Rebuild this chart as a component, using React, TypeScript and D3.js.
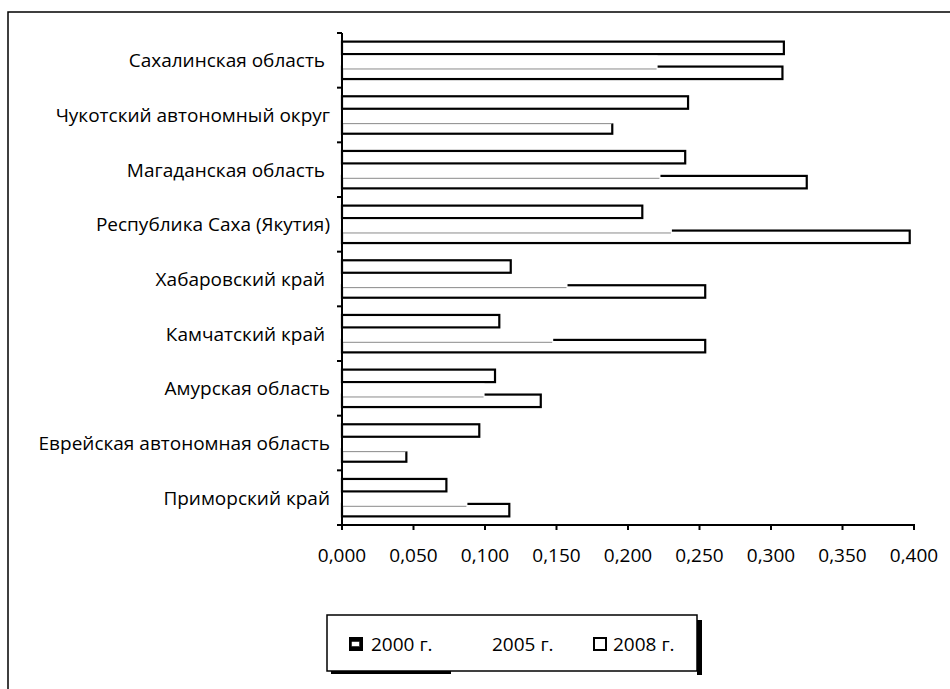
import React from "react";
import * as d3 from "d3";

const categories = [
  "Сахалинская область ",
  "Чукотский автономный округ",
  "Магаданская область ",
  "Республика Саха (Якутия)",
  "Хабаровский край ",
  "Камчатский край ",
  "Амурская область",
  "Еврейская автономная область",
  "Приморский край",
];
const values2000 = [0.309, 0.242, 0.24, 0.21, 0.118, 0.11, 0.107, 0.096, 0.073];
const values2005 = [0.22, 0.2, 0.222, 0.23, 0.157, 0.147, 0.099, 0.06, 0.087];
const values2008 = [0.308, 0.189, 0.325, 0.397, 0.254, 0.254, 0.139, 0.045, 0.117];
const xTicks = [0, 0.05, 0.1, 0.15, 0.2, 0.25, 0.3, 0.35, 0.4];
const seriesNames = ["2000 г.", "2005 г.", "2008 г."];

const W = 950;
const H = 689;
const FONT = "'Open Sans', sans-serif";
const FS = 19;

export default function App() {
  const x = d3.scaleLinear().domain([0, 0.4]).range([342, 914]);
  const y = d3.scaleBand().domain(categories).range([33, 525]).paddingInner(0).paddingOuter(0);
  const inner = d3
    .scaleBand()
    .domain(["2000", "2005", "2008"])
    .range([0, y.bandwidth()])
    .paddingInner(0)
    .paddingOuter(0.69);
  const bh = inner.bandwidth();
  const fmt = (v: number) => d3.format(".3f")(v).replace(".", ",");
  const boundaries = d3.range(categories.length + 1).map((i) => 33 + i * y.bandwidth());

  return (
    <svg width={W} height={H} style={{ position: "absolute", left: 0, top: 0, background: "#fff" }}>
      <rect x={8} y={12} width={1000} height={800} fill="#fff" stroke="#000" strokeWidth={1.5} />

      {/* bars 2000 */}
      {categories.map((c, i) => (
        <rect
          key={"a" + i}
          x={x(0)}
          y={(y(c) as number) + (inner("2000") as number)}
          width={x(values2000[i]) - x(0)}
          height={bh}
          fill="#fff"
          stroke="#000"
          strokeWidth={2.2}
        />
      ))}
      {/* bars 2008 */}
      {categories.map((c, i) => (
        <rect
          key={"c" + i}
          x={x(0)}
          y={(y(c) as number) + (inner("2008") as number)}
          width={x(values2008[i]) - x(0)}
          height={bh}
          fill="#fff"
          stroke="#000"
          strokeWidth={2.2}
        />
      ))}
      {/* bars 2005 (white, overlapping the 2008 top edge) */}
      {categories.map((c, i) => {
        const y0 = (y(c) as number) + (inner("2005") as number);
        return (
          <g key={"b" + i}>
            <rect x={x(0) + 1} y={y0 + 1.5} width={x(values2005[i]) - x(0)} height={bh + 0.6} fill="#fff" />
            <line
              x1={x(0)}
              x2={x(Math.min(values2005[i], values2008[i]))}
              y1={y0 + bh + 2.4}
              y2={y0 + bh + 2.4}
              stroke="#8a8a8a"
              strokeWidth={1}
            />
          </g>
        );
      })}

      {/* y axis */}
      <line x1={x(0)} x2={x(0)} y1={33} y2={526} stroke="#000" strokeWidth={2} />
      {boundaries.map((b, i) => (
        <line key={"yt" + i} x1={x(0) - 5} x2={x(0)} y1={b} y2={b} stroke="#000" strokeWidth={2} />
      ))}
      {categories.map((c) => (
        <text
          key={"l" + c}
          x={330}
          y={(y(c) as number) + y.bandwidth() / 2}
          textAnchor="end"
          dominantBaseline="central"
          fontFamily={FONT}
          fontSize={FS}
          fill="#000"
          style={{ whiteSpace: "pre" }}
        >
          {c}
        </text>
      ))}

      {/* x axis */}
      <line x1={x(0) - 1} x2={x(0.4) + 1} y1={525} y2={525} stroke="#000" strokeWidth={2} />
      {xTicks.map((t) => (
        <g key={"xt" + t}>
          <line x1={x(t)} x2={x(t)} y1={525} y2={530} stroke="#000" strokeWidth={2} />
          <text
            x={x(t)}
            y={555}
            textAnchor="middle"
            dominantBaseline="central"
            fontFamily={FONT}
            fontSize={FS}
            fill="#000"
          >
            {fmt(t)}
          </text>
        </g>
      ))}

      {/* legend */}
      <rect x={697} y={620} width={5} height={55} fill="#000" />
      <rect x={331} y={669} width={120} height={5} fill="#000" />
      <rect x={327} y={615} width={370} height={56} fill="#fff" stroke="#000" strokeWidth={1.5} />
      <rect x={349} y={637} width={14} height={14} fill="#000" />
      <rect x={351.5} y={641.5} width={8} height={5} fill="#fff" stroke="#000" strokeWidth={0.5} />
      <text x={371} y={644} dominantBaseline="central" fontFamily={FONT} fontSize={FS}>
        {seriesNames[0]}
      </text>
      <text x={492} y={644} dominantBaseline="central" fontFamily={FONT} fontSize={FS}>
        {seriesNames[1]}
      </text>
      <rect x={594} y={638} width={12} height={12} fill="#fff" stroke="#000" strokeWidth={2} />
      <text x={613} y={644} dominantBaseline="central" fontFamily={FONT} fontSize={FS}>
        {seriesNames[2]}
      </text>
    </svg>
  );
}
